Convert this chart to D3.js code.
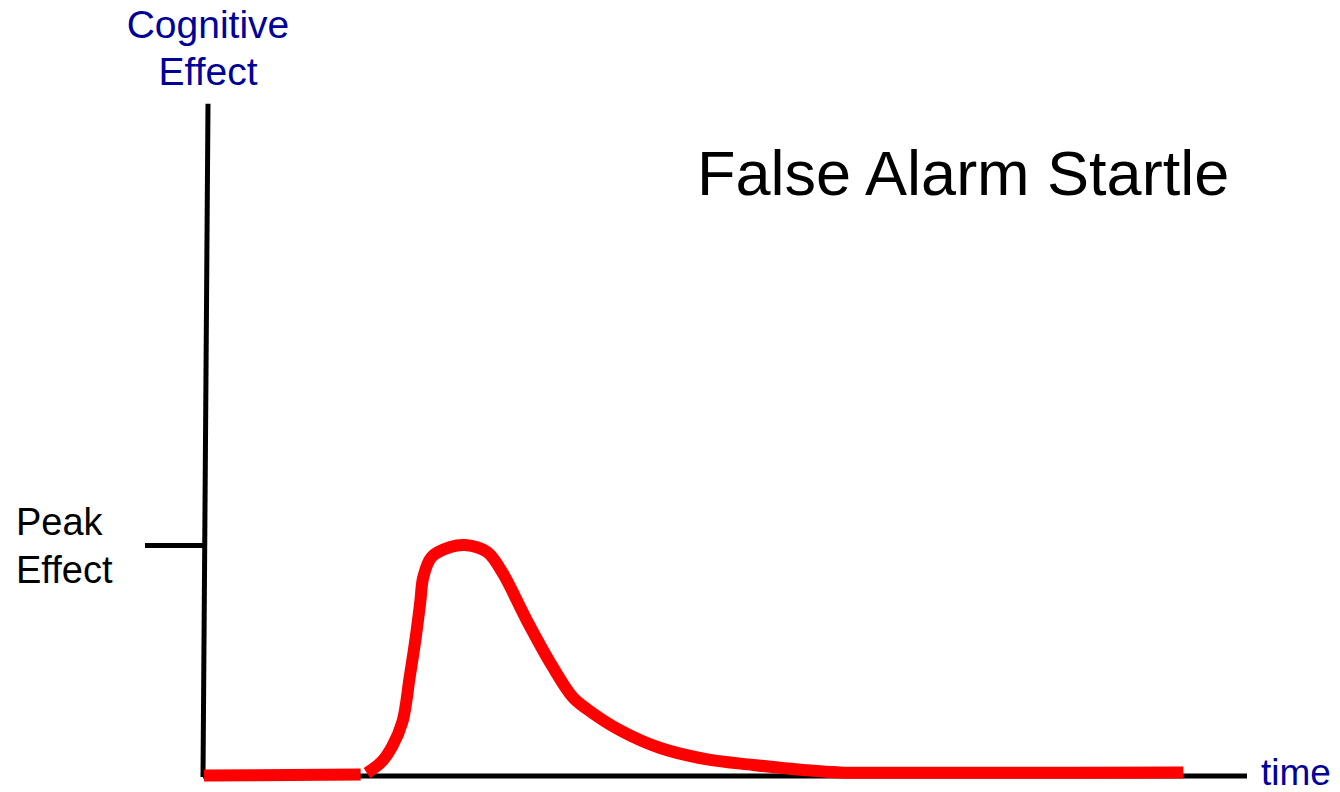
<!DOCTYPE html>
<html>
<head>
<meta charset="utf-8">
<script src="https://cdn.jsdelivr.net/npm/d3@7"></script>
<style>
  html, body { margin: 0; padding: 0; background: #fff; }
  svg { display: block; }
  text { font-family: "Liberation Sans", Arial, sans-serif; }
</style>
</head>
<body>
<svg id="chart" width="1340" height="792"></svg>
<script>
// ---- data ----
const titleText = "False Alarm Startle";
const yAxisLabel = ["Cognitive", "Effect"];
const xAxisLabel = "time";
const tickLabel = ["Peak", "Effect"];
const tickValues = [100];
const yAxisTop = 291;        // axis extends above the peak level
// baseline segment before the startle (time, effect)
const baselineTime = [0.1, 15.1];
const baselineEffect = [0.2, 0.6];
// startle response curve (time, effect)
const responseTime = [15.7, 17.1, 18.1, 19.1, 19.8, 20.3, 20.8, 21.1, 21.9, 23.7, 25.1, 27.2, 28.7, 31.0, 33.5, 35.4, 36.8, 39.9, 43.8, 48.3, 52.7, 57.5, 61.0, 66.8, 76.3, 93.9];
const responseEffect = [1.3, 6.1, 12.6, 23.4, 42.9, 57.6, 74.9, 86.1, 94.8, 99.1, 100, 97.0, 87.9, 67.5, 47.2, 34.2, 28.9, 19.9, 12.1, 7.2, 4.8, 2.6, 1.5, 1.4, 1.4, 1.5];

// ---- layout ----
const svg = d3.select("#chart");
const x = d3.scaleLinear().domain([0, 100]).range([203, 1247]);
const y = d3.scaleLinear().domain([0, 100]).range([776, 545]);
const axisColor = "#000";
const labelBlue = "#000099";
const red = "#ff0000";

// x axis line
svg.append("line")
  .attr("x1", x(0)).attr("x2", x(100))
  .attr("y1", y(0)).attr("y2", y(0))
  .attr("stroke", axisColor).attr("stroke-width", 5);

// y axis line (slightly tilted as in the sketch)
svg.append("line")
  .attr("x1", x(0)).attr("y1", y(0) + 1)
  .attr("x2", x(0) + 5).attr("y2", y(yAxisTop))
  .attr("stroke", axisColor).attr("stroke-width", 5);

// tick via d3 axis
const yAxis = d3.axisLeft(y).tickValues(tickValues).tickSize(60).tickFormat("");
const gy = svg.append("g").attr("transform", `translate(${x(0) + 2},0)`).call(yAxis);
gy.select(".domain").remove();
gy.selectAll(".tick line").attr("stroke", axisColor).attr("stroke-width", 5);

// tick label
svg.append("text")
  .attr("font-size", 38).attr("fill", "#000")
  .selectAll("tspan").data(tickLabel).join("tspan")
  .attr("x", 16).attr("y", (d, i) => 535 + i * 48)
  .text(d => d);

// y axis label
svg.append("text")
  .attr("text-anchor", "middle")
  .attr("font-size", 39).attr("fill", labelBlue)
  .selectAll("tspan").data(yAxisLabel).join("tspan")
  .attr("x", 208).attr("y", (d, i) => 38 + i * 47)
  .text(d => d);

// x axis label
svg.append("text")
  .attr("x", 1261).attr("y", 785)
  .attr("font-size", 37).attr("fill", labelBlue)
  .text(xAxisLabel);

// title
svg.append("text")
  .attr("x", 697).attr("y", 195)
  .attr("font-size", 63).attr("fill", "#000")
  .text(titleText);

// curves
const line = d3.line()
  .x(d => x(d[0])).y(d => y(d[1]))
  .curve(d3.curveCatmullRom.alpha(0.5));

const baseData = baselineTime.map((t, i) => [t, baselineEffect[i]]);
const respData = responseTime.map((t, i) => [t, responseEffect[i]]);

svg.append("path").datum(baseData)
  .attr("d", d3.line().x(d => x(d[0])).y(d => y(d[1])))
  .attr("fill", "none").attr("stroke", red).attr("stroke-width", 12);

svg.append("path").datum(respData)
  .attr("d", line)
  .attr("fill", "none").attr("stroke", red).attr("stroke-width", 12)
  .attr("stroke-linejoin", "round");
</script>
</body>
</html>
